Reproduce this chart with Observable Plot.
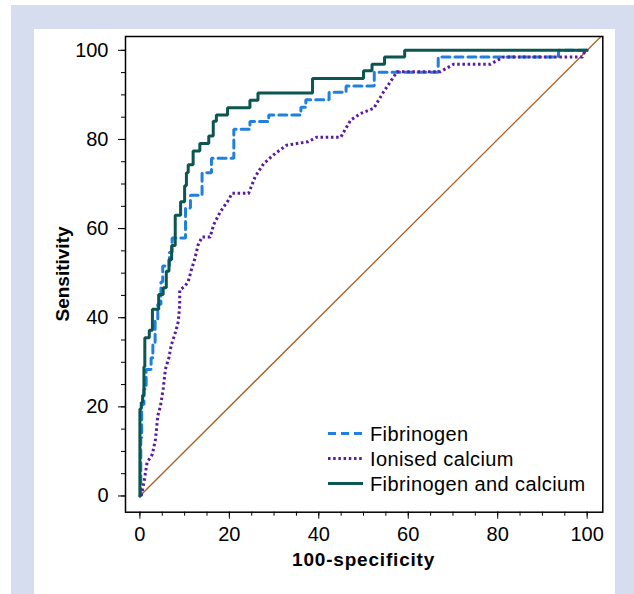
<!DOCTYPE html>
<html><head><meta charset="utf-8">
<script src="https://cdn.jsdelivr.net/npm/d3@7"></script>
<script src="https://cdn.jsdelivr.net/npm/@observablehq/plot@0.6"></script>
<style>
html,body{margin:0;padding:0;background:#fff;}
#bg{position:absolute;left:11px;top:5px;width:623px;height:589px;background:#d5ddee;}
#panel{position:absolute;left:34px;top:29px;width:581px;height:565px;background:#fff;}
#chart{position:absolute;left:0;top:0;}
</style></head><body>
<div id="bg"></div><div id="panel"></div><div id="chart"></div>
<script>
const seriesNames = ["Fibrinogen", "Ionised calcium", "Fibrinogen and calcium"];
const seriesColors = ["#1f80e0", "#5a1ba0", "#0b5650"];
const xTitle = "100-specificity";
const yTitle = "Sensitivity";
const majorTicks = [0, 20, 40, 60, 80, 100];
const minorTicks = [0,5,10,15,20,25,30,35,40,45,50,55,60,65,70,75,80,85,90,95,100];

// Fibrinogen (step curve)
const fibFpr = [0,0.2,0.4,0.9,1.4,2.5,2.9,3.4,4.0,4.7,5.1,6.6,7.2,10.2,11.3,13.9,16.0,21.0,24.6,28.8,36.0,37.1,42.3,46.1,52.4,66.7,93.6,100];
const fibSens = [0,13,20.5,24,28.4,31,34.5,39.3,43,48,51.6,54.7,57.9,64.6,67.5,72.5,75.8,82.3,84,85.5,87.2,88.9,90.6,92,95.1,98.5,100,100];

// Ionised calcium
const caFpr = [0.3,0.9,1.6,2.8,3.5,4.0,4.6,5.2,5.7,6.5,7.0,8.0,8.6,8.9,8.9,10.0,10.8,11.5,12.3,13.0,13.9,15.7,16.5,18.0,19.8,20.6,24.3,25.8,27.7,30.3,32.8,37.6,39.5,44.9,47.1,49.3,52.3,54.5,57.5,67.2,70.2,78.4,81.3,98.9,99.6,100];
const caSens = [0,3,7.5,9.4,12.8,18,20.2,24,28.4,31.1,33.8,36.9,39.2,42.9,46.2,47,48.1,50.7,53.3,56.3,58.1,58.1,60.9,63.8,66.4,67.9,67.9,71.7,74.6,76.9,78.7,79.5,80.5,80.5,84.3,85.8,87,90.7,95.2,95.2,96.9,96.9,98.5,98.5,100,100];

// Fibrinogen and calcium (step curve)
const combFpr = [0,0,0.3,0.6,0.9,1.1,2.1,2.8,4.2,5.2,5.9,6.5,7.1,7.9,9.1,10.0,10.4,10.8,11.9,13.4,15.4,16.4,17.1,19.6,24.6,26.4,38.6,50.0,51.9,54.7,59.2,100];
const combSens = [0,19.5,21,22.6,29,35.5,37.2,41.9,45.2,46.7,50.4,53,56.2,63,66,69.6,72.5,74.3,77.4,79.1,80.8,84.1,85.5,87.1,88.8,90.4,93.7,95.4,96.9,98.5,100,100];

const chanceLine = [0, 110];

const toRows = (xs, ys) => xs.map((x, i) => ({x, y: ys[i]}));
const fib = toRows(fibFpr, fibSens);
const ca = toRows(caFpr, caSens);
const comb = toRows(combFpr, combSens);
const diag = chanceLine.map(v => ({x: v, y: v}));

const font = "'Liberation Sans', Arial, Helvetica, sans-serif";
const dashes = ["8,5", "2.5,2.7", null];
const widths = [3, 3, 3];

const plot = Plot.plot({
  width: 634, height: 594,
  marginLeft: 125, marginRight: 31.7, marginTop: 36, marginBottom: 82.3,
  style: {background: "transparent", fontFamily: font, fontSize: "20px", color: "#000", overflow: "visible"},
  x: {domain: [-3.22, 103.5]},
  y: {domain: [-3.64, 103.1]},
  marks: [
    Plot.line(diag, {x: "x", y: "y", stroke: "#a85f22", strokeWidth: 1.3, clip: true}),
    Plot.line(fib, {x: "x", y: "y", curve: "step-after", stroke: seriesColors[0], strokeWidth: widths[0], strokeDasharray: dashes[0], strokeLinejoin: "miter"}),
    Plot.line(ca, {x: "x", y: "y", curve: "linear", stroke: seriesColors[1], strokeWidth: widths[1], strokeDasharray: dashes[1], strokeLinecap: "butt"}),
    Plot.line(comb, {x: "x", y: "y", curve: "step-after", stroke: seriesColors[2], strokeWidth: widths[2], strokeLinejoin: "miter"}),
    Plot.axisX({ticks: minorTicks, tickSize: 4, tickFormat: () => "", label: null}),
    Plot.axisX({ticks: majorTicks, tickSize: 7, tickPadding: 8, label: null, fontSize: 20}),
    Plot.axisY({ticks: minorTicks, tickSize: 4, tickFormat: () => "", label: null}),
    Plot.axisY({ticks: majorTicks, tickSize: 7, tickPadding: 10, label: null, fontSize: 20}),
    Plot.frame({stroke: "#000", strokeWidth: 1.5})
  ]
});

document.getElementById("chart").appendChild(plot);
const svg = d3.select(plot);

// axis titles
svg.append("text").attr("x", 363.6).attr("y", 566).attr("text-anchor", "middle")
  .attr("font-family", font).attr("font-size", 19).attr("font-weight", "bold").attr("letter-spacing", "0.8px")
  .text(xTitle);
svg.append("text").attr("transform", "translate(69,274) rotate(-90)").attr("text-anchor", "middle")
  .attr("font-family", font).attr("font-size", 19).attr("font-weight", "bold")
  .text(yTitle);

// legend
const lg = svg.append("g").attr("text-anchor", "start");
seriesNames.forEach((name, i) => {
  const yy = 433.5 + i * 25;
  const ln = lg.append("line").attr("x1", 328).attr("x2", 363).attr("y1", yy).attr("y2", yy)
    .attr("stroke", seriesColors[i]).attr("stroke-width", widths[i]);
  if (dashes[i]) ln.attr("stroke-dasharray", dashes[i]);
  lg.append("text").attr("x", 370).attr("y", yy).attr("dy", "0.36em").attr("text-anchor", "start")
    .attr("font-family", font).attr("font-size", 20).attr("letter-spacing", "0.4px").text(name);
});
</script>
</body></html>
